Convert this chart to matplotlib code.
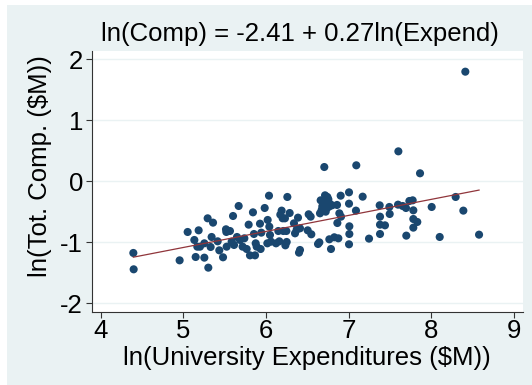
import matplotlib
matplotlib.use('Agg')
import matplotlib.pyplot as plt
from matplotlib.patches import Rectangle
import numpy as np

# ln(university expenditures) and ln(total compensation), both in $M
ln_expend = [4.395, 4.399, 4.955, 5.052, 5.133, 5.149, 5.185, 5.169, 5.201, 5.254,
             5.254, 5.294, 5.302, 5.330, 5.342, 5.359, 5.415, 5.435, 5.480, 5.516,
             5.524, 5.520, 5.564, 5.584, 5.601, 5.613, 5.649, 5.669, 5.685, 5.717,
             5.738, 5.766, 5.790, 5.806, 5.842, 5.854, 5.867, 5.875, 5.887, 5.927,
             5.935, 5.943, 5.984, 6.016, 6.020, 6.036, 6.040, 6.048, 6.060, 6.121,
             6.149, 6.161, 6.173, 6.189, 6.201, 6.209, 6.234, 6.246, 6.250, 6.258,
             6.286, 6.338, 6.351, 6.371, 6.387, 6.399, 6.411, 6.411, 6.504, 6.516,
             6.540, 6.548, 6.629, 6.645, 6.653, 6.661, 6.681, 6.705, 6.714, 6.722,
             6.742, 6.762, 6.766, 6.786, 6.798, 6.826, 6.859, 6.863, 6.875, 6.887,
             6.903, 6.907, 7.004, 7.004, 7.008, 7.008, 7.004, 7.088, 7.092, 7.169,
             7.246, 7.375, 7.379, 7.379, 7.379, 7.439, 7.492, 7.496, 7.601, 7.597,
             7.653, 7.693, 7.697, 7.734, 7.774, 7.782, 7.782, 7.782, 7.830, 7.863,
             8.004, 8.101, 8.294, 8.387, 8.411, 8.577,
             6.693, 6.734, 6.774, 6.673, 6.754, 6.229]
ln_comp = [-1.175, -1.443, -1.296, -0.831, -0.962, -1.241, -0.804, -1.072, -1.072, -1.017,
           -1.252, -0.607, -1.416, -1.077, -0.913, -0.678, -0.984, -1.132, -1.246, -0.787,
           -1.072, -0.831, -0.815, -0.990, -0.569, -1.044, -0.913, -0.405, -0.962, -1.072,
           -0.935, -1.110, -0.711, -1.214, -0.509, -0.864, -1.214, -1.017, -1.072, -0.695,
           -1.110, -0.842, -0.438, -1.017, -0.634, -0.236, -0.744, -0.880, -0.990, -1.017,
           -0.815, -0.984, -0.547, -0.481, -0.607, -0.815, -1.050, -0.815, -0.995, -0.257,
           -0.520, -0.689, -0.853, -0.793, -0.596, -1.170, -1.126, -0.771, -0.804, -0.541,
           -0.580, -0.869, -1.028, -1.001, -0.525, -0.312, -0.410, 0.234, -0.230, -0.498,
           -0.257, -0.416, -0.951, -1.110, -0.394, -0.918, -0.388, -0.684, -0.935, -0.525,
           -0.236, -0.580, -0.181, -0.367, -0.738, -0.864, -1.033, -0.481, 0.262, -0.252,
           -0.940, -0.394, -0.580, -0.711, -0.864, -0.722, -0.421, -0.536, 0.491, -0.383,
           -0.405, -0.438, -0.891, -0.323, -0.312, -0.476, -0.618, -0.760, -0.667, 0.131,
           -0.421, -0.913, -0.257, -0.481, 1.797, -0.875,
           -0.334, -0.443, -0.372, -0.470, -0.296, -0.607]

# fitted line as drawn
fit_intercept = -2.40
fit_slope = 0.263

x_ticks = [4, 5, 6, 7, 8, 9]
y_ticks = [-2, -1, 0, 1, 2]

bg = '#EAF2F3'
navy = '#1A476F'
maroon = '#90353B'
fs = 18.5

plt.rcParams['font.family'] = ['Liberation Sans', 'DejaVu Sans']

fig = plt.figure(figsize=(5.32, 3.85), dpi=100, facecolor=bg)
# white strip on top and left edge of the image
fig.patches.append(Rectangle((0, 1 - 5/385), 1, 5/385, transform=fig.transFigure,
                             facecolor='white', edgecolor='none', zorder=-1))
fig.patches.append(Rectangle((0, 0), 7/532, 1, transform=fig.transFigure,
                             facecolor='white', edgecolor='none', zorder=-1))

ax = fig.add_axes([92/532, (385-311.7)/385, 430.7/532, 260.7/385])
ax.set_facecolor('white')

ax.scatter(ln_expend, ln_comp, s=34, color=navy, edgecolors='none', zorder=3)

xs = np.array([min(ln_expend), max(ln_expend)])
ax.plot(xs, fit_intercept + fit_slope * xs, color=maroon, lw=0.9, zorder=4)

ax.set_xlim(3.895, 9.105)
ax.set_ylim(-2.138, 2.136)
ax.set_xticks(x_ticks)
ax.set_yticks(y_ticks)
ax.set_xticklabels([str(t) for t in x_ticks])
ax.set_yticklabels([str(t) for t in y_ticks])

ax.grid(axis='y', color=bg, lw=1.0)
ax.set_axisbelow(True)

for s in ['top', 'right']:
    ax.spines[s].set_visible(False)
for s in ['left', 'bottom']:
    ax.spines[s].set_color('#333333')
    ax.spines[s].set_linewidth(0.8)

ax.tick_params(axis='both', direction='out', length=4.5, width=0.8, color='#333333',
               labelsize=fs, labelcolor='black')
ax.tick_params(axis='y', pad=2)
ax.tick_params(axis='x', pad=1)

ax.set_xlabel('ln(University Expenditures (\\$M))', fontsize=fs, va='center')
ax.set_ylabel('ln(Tot. Comp. (\\$M))', fontsize=fs, va='center')
ax.xaxis.set_label_coords(0.5, -0.176)
ax.yaxis.set_label_coords(-0.121, 0.557)

fig.text(300/532, 1 - 34/385, 'ln(Comp) = -2.41 + 0.27ln(Expend)', fontsize=fs,
         ha='center', va='center')

fig.savefig('out.png', dpi=100, facecolor=bg)
